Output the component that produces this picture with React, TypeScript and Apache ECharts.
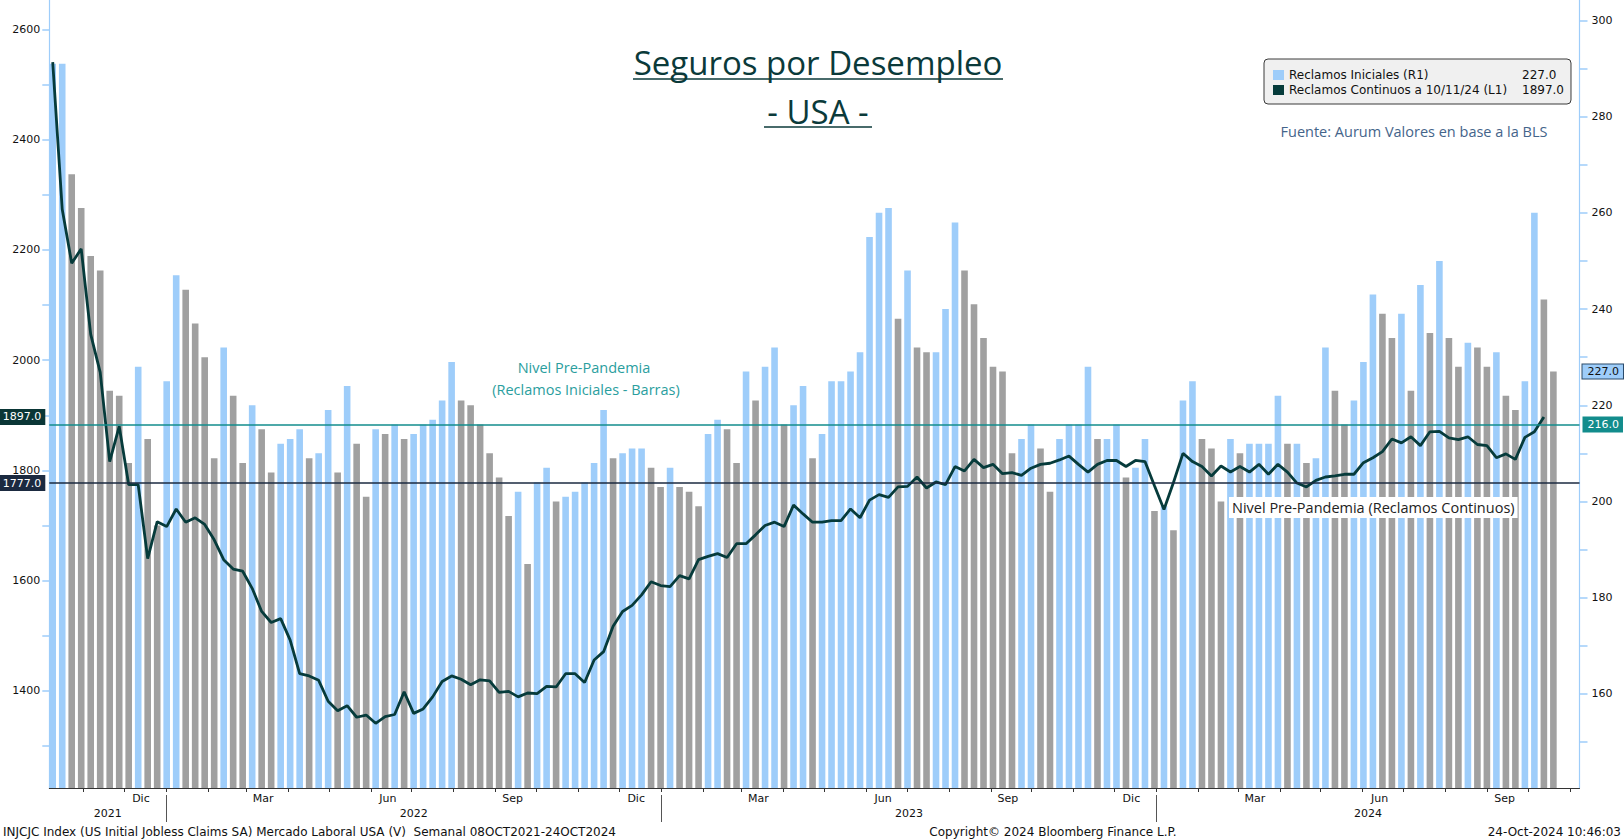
import React, { useEffect, useRef } from 'react';
import * as echarts from 'echarts';

// ---------- DATA ----------
const startDate = '2021-10-08'; // first weekly observation (Bloomberg Friday dating)

// Initial jobless claims, thousands (right axis, bars)
const initialClaims = [
  291, 291, 268, 261, 251, 248, 223, 222, 208, 228,
  213, 195, 225, 247, 244, 237, 230, 209, 232, 222,
  208, 220, 215, 206, 212, 213, 215, 209, 210, 219,
  206, 224, 212, 201, 215, 214, 216, 213, 214, 216,
  217, 221, 229, 221, 220, 216, 210, 205, 197, 202,
  187, 204, 207, 200, 201, 202, 204, 208, 219, 209,
  210, 211, 211, 207, 203, 207, 203, 202, 199, 214,
  217, 215, 208, 227, 221, 228, 232, 216, 220, 224,
  209, 214, 225, 225, 227, 231, 255, 260, 261, 238,
  248, 232, 231, 231, 240, 258, 248, 241, 234, 228,
  227, 210, 213, 216, 211, 202, 213, 216, 216, 228,
  213, 213, 216, 205, 207, 213, 198, 199, 194, 221,
  225, 213, 211, 200, 213, 210, 212, 212, 212, 222,
  212, 212, 208, 209, 232, 223, 216, 221, 229, 243,
  239, 234, 239, 223, 245, 235, 250, 234, 228, 233,
  232, 228, 231, 222, 219, 225, 260, 242, 227,
];

// Continuing claims, thousands (left axis, line)
const continuingClaims = [
  2541, 2274, 2176, 2202, 2047, 1978, 1816, 1880, 1774, 1774,
  1640, 1707, 1698, 1730, 1706, 1714, 1702, 1674, 1638, 1621,
  1617, 1586, 1544, 1524, 1531, 1492, 1431, 1427, 1419, 1381,
  1364, 1373, 1352, 1356, 1341, 1353, 1357, 1398, 1359, 1367,
  1389, 1417, 1427, 1421, 1411, 1420, 1418, 1397, 1399, 1389,
  1396, 1395, 1408, 1407, 1431, 1431, 1415, 1456, 1471, 1517,
  1544, 1555, 1574, 1598, 1591, 1589, 1609, 1603, 1638, 1644,
  1649, 1642, 1667, 1667, 1683, 1700, 1706, 1698, 1737, 1721,
  1706, 1706, 1709, 1709, 1730, 1714, 1746, 1756, 1751, 1770,
  1771, 1788, 1768, 1779, 1774, 1807, 1799, 1820, 1805, 1811,
  1794, 1796, 1791, 1804, 1811, 1813, 1819, 1826, 1811, 1797,
  1811, 1818, 1818, 1807, 1818, 1816, 1772, 1729, 1778, 1831,
  1816, 1807, 1790, 1808, 1797, 1807, 1797, 1811, 1793, 1811,
  1797, 1777, 1770, 1782, 1788, 1790, 1793, 1793, 1814, 1823,
  1834, 1857, 1850, 1861, 1845, 1870, 1871, 1859, 1856, 1861,
  1847, 1845, 1823, 1830, 1820, 1860, 1870, 1897,
];

const leftTickValues = [1300, 1400, 1500, 1600, 1700, 1800, 1900, 2000, 2100, 2200, 2300, 2400, 2500, 2600];
const leftLabelValues = [1400, 1600, 1800, 2000, 2200, 2400, 2600];
const rightTickValues = [150, 160, 170, 180, 190, 200, 210, 220, 230, 240, 250, 260, 270, 280, 290, 300];
const rightLabelValues = [160, 180, 200, 220, 240, 260, 280, 300];
const monthNames = ['Ene', 'Feb', 'Mar', 'Abr', 'May', 'Jun', 'Jul', 'Ago', 'Sep', 'Oct', 'Nov', 'Dic'];
const quarterMonths = [2, 5, 8, 11]; // Mar, Jun, Sep, Dic
const prePandemicInitial = 216;
const prePandemicContinuing = 1777;

const BAR_NAME = 'Reclamos Iniciales (R1)';
const BLUE = '#9ecdfa';
const GRAY = '#a0a0a0';
const LINE = '#063b3b';
const TEAL = '#128c8c';
const NAVY = '#1b2a40';

const DAY = 864e5;
const WEEK = 7 * DAY;
const TICK_SHIFT_DAYS = -1.5;   // Bloomberg draws month boundaries slightly before the 1st
const LABEL_SHIFT_DAYS = 11;    // month label anchor, days after the 1st

export default function App() {
  const ref = useRef<HTMLDivElement>(null);

  useEffect(() => {
    if (!ref.current) return;
    const chart = echarts.init(ref.current, null, { renderer: 'svg' });

    const t0 = Date.parse(startDate + 'T00:00:00Z');
    const dates = initialClaims.map((_, i) => t0 + i * WEEK);
    const xMin = t0 - 0.36 * WEEK;
    const xMax = t0 + 160.75 * WEEK;

    const monthStarts: number[] = [];
    const quarterLabels: number[] = [];
    const yearStarts: number[] = [];
    const yearMids: number[] = [];
    const d0 = new Date(xMin);
    let y = d0.getUTCFullYear();
    let m = d0.getUTCMonth();
    while (true) {
      const s = Date.UTC(y, m, 1);
      if (s > xMax) break;
      const tick = s + TICK_SHIFT_DAYS * DAY;
      if (tick >= xMin && tick <= xMax) monthStarts.push(tick);
      if (quarterMonths.includes(m)) {
        const lab = s + LABEL_SHIFT_DAYS * DAY;
        if (lab >= xMin && lab <= xMax) quarterLabels.push(lab);
      }
      m++;
      if (m > 11) { m = 0; y++; }
    }
    for (let yy = new Date(xMin).getUTCFullYear(); yy <= new Date(xMax).getUTCFullYear(); yy++) {
      const s = Date.UTC(yy, 0, 1) + TICK_SHIFT_DAYS * DAY;
      const e = Date.UTC(yy + 1, 0, 1) + TICK_SHIFT_DAYS * DAY;
      if (s > xMin && s < xMax) yearStarts.push(s);
      yearMids.push((Math.max(s, xMin) + Math.min(e, xMax)) / 2);
    }

    const lastLineIdx = continuingClaims.length - 1;
    const lastLineDate = new Date(dates[lastLineIdx]);
    const pad = (n: number) => String(n).padStart(2, '0');
    const lineName = `Reclamos Continuos a ${pad(lastLineDate.getUTCMonth() + 1)}/${pad(lastLineDate.getUTCDate())}/${String(lastLineDate.getUTCFullYear()).slice(2)} (L1)`;
    const lastBar = initialClaims[initialClaims.length - 1];
    const lastLine = continuingClaims[lastLineIdx];

    const barData = dates.map((t, i) => ({
      value: [t, initialClaims[i]],
      itemStyle: { color: i === 0 || initialClaims[i] >= initialClaims[i - 1] ? BLUE : GRAY },
    }));
    const lineData = continuingClaims.map((v, i) => [dates[i], v]);

    const axisFont = { fontFamily: 'DejaVu Sans', fontSize: 11, color: '#111' };
    const tagFont = { fontFamily: 'DejaVu Sans', fontSize: 11 };
    const plain = (v: number) => String(v);

    const option: any = {
      animation: false,
      backgroundColor: '#ffffff',
      grid: { left: 49.3, right: 44.5, top: 0, bottom: 52, containLabel: false },
      legend: {
        orient: 'vertical',
        left: 1264,
        top: 59,
        padding: [10, 7, 8, 9],
        backgroundColor: '#f0f0f0',
        borderColor: '#3a3a3a',
        borderWidth: 1,
        borderRadius: 4,
        itemWidth: 11,
        itemHeight: 10,
        itemGap: 3,
        icon: 'rect',
        selectedMode: false,
        data: [
          { name: BAR_NAME, itemStyle: { color: BLUE } },
          { name: lineName, itemStyle: { color: LINE } },
        ],
        formatter: (name: string) =>
          `{n|${name}}{v|${(name === BAR_NAME ? lastBar : lastLine).toFixed(1)}}`,
        textStyle: {
          rich: {
            n: { width: 233, fontFamily: 'DejaVu Sans', fontSize: 12, color: '#111', lineHeight: 13 },
            v: { fontFamily: 'DejaVu Sans', fontSize: 12, color: '#111', lineHeight: 13 },
          },
        },
      },
      xAxis: [
        {
          type: 'value',
          min: xMin,
          max: xMax,
          position: 'bottom',
          axisLine: { show: true, lineStyle: { color: '#333', width: 1 } },
          axisTick: { show: true, customValues: monthStarts, length: 4, lineStyle: { color: '#333' } },
          axisLabel: {
            customValues: quarterLabels,
            formatter: (v: number) => monthNames[new Date(v).getUTCMonth()],
            ...axisFont,
            margin: 5,
          },
          splitLine: { show: false },
        },
        {
          type: 'value',
          min: xMin,
          max: xMax,
          position: 'bottom',
          offset: 7,
          axisLine: { show: false },
          axisTick: { show: true, customValues: yearStarts, length: 27, lineStyle: { color: '#555' } },
          axisLabel: {
            customValues: yearMids,
            formatter: (v: number) => String(new Date(v).getUTCFullYear()),
            ...axisFont,
            margin: 13,
          },
          splitLine: { show: false },
        },
      ],
      yAxis: [
        {
          type: 'value',
          position: 'left',
          min: 1223.6,
          max: 2653.7,
          axisLine: { show: true, lineStyle: { color: BLUE, width: 1.2 } },
          axisTick: { show: true, customValues: leftTickValues, length: 7, lineStyle: { color: BLUE, width: 1.5 } },
          axisLabel: { customValues: leftLabelValues, formatter: plain, ...axisFont, margin: 9 },
          splitLine: { show: false },
        },
        {
          type: 'value',
          position: 'right',
          min: 140.44,
          max: 304.24,
          axisLine: { show: true, lineStyle: { color: BLUE, width: 1.2 } },
          axisTick: { show: true, customValues: rightTickValues, length: 8, lineStyle: { color: BLUE, width: 1.5 } },
          axisLabel: { customValues: rightLabelValues, formatter: plain, ...axisFont, margin: 12 },
          splitLine: { show: false },
        },
      ],
      series: [
        {
          name: BAR_NAME,
          type: 'bar',
          xAxisIndex: 0,
          yAxisIndex: 1,
          barWidth: 6.6,
          clip: true,
          z: 2,
          data: barData,
          markLine: {
            silent: true,
            symbol: ['none', 'none'],
            data: [
              {
                yAxis: prePandemicInitial,
                lineStyle: { color: TEAL, width: 1.6, type: 'solid' },
                label: {
                  show: true, position: 'end', distance: 3,
                  formatter: prePandemicInitial.toFixed(1),
                  backgroundColor: TEAL, color: '#fff', padding: [3, 4, 2, 5], ...tagFont,
                },
              },
              {
                yAxis: lastBar,
                lineStyle: { color: 'rgba(0,0,0,0)', width: 0 },
                label: {
                  show: true, position: 'end', distance: 3,
                  formatter: lastBar.toFixed(1),
                  backgroundColor: BLUE, color: '#111', borderColor: '#2b4a6a', borderWidth: 1,
                  padding: [2, 4, 1, 5], ...tagFont,
                },
              },
            ],
          },
        },
        {
          name: lineName,
          type: 'line',
          xAxisIndex: 0,
          yAxisIndex: 0,
          showSymbol: false,
          symbol: 'none',
          z: 3,
          lineStyle: { color: LINE, width: 2.8 },
          itemStyle: { color: LINE },
          data: lineData,
          markLine: {
            silent: true,
            symbol: ['none', 'none'],
            data: [
              {
                yAxis: prePandemicContinuing,
                lineStyle: { color: NAVY, width: 1.6, type: 'solid' },
                label: {
                  show: true, position: 'start', distance: 4,
                  formatter: prePandemicContinuing.toFixed(1),
                  backgroundColor: NAVY, color: '#fff', padding: [3, 4, 2, 3], ...tagFont,
                },
              },
              {
                yAxis: lastLine,
                lineStyle: { color: 'rgba(0,0,0,0)', width: 0 },
                label: {
                  show: true, position: 'start', distance: 4,
                  formatter: lastLine.toFixed(1),
                  backgroundColor: '#0a3636', color: '#fff', padding: [3, 4, 2, 3], ...tagFont,
                },
              },
            ],
          },
        },
      ],
      graphic: [
        {
          type: 'text', x: 818, y: 62, z: 10,
          style: { text: 'Seguros por Desempleo', font: '33px "Open Sans"', fill: '#0b3a3a', textAlign: 'center', textVerticalAlign: 'middle' },
        },
        { type: 'line', z: 10, shape: { x1: 633, y1: 79, x2: 1003, y2: 79 }, style: { stroke: '#0b3a3a', lineWidth: 1.5 } },
        {
          type: 'text', x: 818, y: 111, z: 10,
          style: { text: '- USA -', font: '33px "Open Sans"', fill: '#0b3a3a', textAlign: 'center', textVerticalAlign: 'middle' },
        },
        { type: 'line', z: 10, shape: { x1: 764, y1: 127, x2: 872, y2: 127 }, style: { stroke: '#0b3a3a', lineWidth: 1.5 } },
        {
          type: 'text', x: 1414, y: 131, z: 10,
          style: { text: 'Fuente: Aurum Valores en base a la BLS', font: '14.5px "Open Sans"', fill: '#44648a', textAlign: 'center', textVerticalAlign: 'middle' },
        },
        {
          type: 'text', x: 584, y: 367, z: 10,
          style: { text: 'Nivel Pre-Pandemia', font: '14.5px "Open Sans"', fill: '#2a9e9e', textAlign: 'center', textVerticalAlign: 'middle' },
        },
        {
          type: 'text', x: 586, y: 389, z: 10,
          style: { text: '(Reclamos Iniciales - Barras)', font: '14.5px "Open Sans"', fill: '#2a9e9e', textAlign: 'center', textVerticalAlign: 'middle' },
        },
        {
          type: 'text', x: 1229, y: 507.5, z: 10,
          style: {
            text: 'Nivel Pre-Pandemia (Reclamos Continuos)', font: '14.5px "Open Sans"', fill: '#222',
            textAlign: 'left', textVerticalAlign: 'middle', backgroundColor: '#ffffff', padding: [3, 3, 3, 3],
          },
        },
        {
          type: 'text', x: 3, y: 832, z: 10,
          style: { text: 'INJCJC Index (US Initial Jobless Claims SA) Mercado Laboral USA (V)  Semanal 08OCT2021-24OCT2024', font: '12px "DejaVu Sans"', fill: '#111', textAlign: 'left', textVerticalAlign: 'middle' },
        },
        {
          type: 'text', x: 1053, y: 832, z: 10,
          style: { text: 'Copyright© 2024 Bloomberg Finance L.P.', font: '12px "DejaVu Sans"', fill: '#111', textAlign: 'center', textVerticalAlign: 'middle' },
        },
        {
          type: 'text', x: 1621, y: 832, z: 10,
          style: { text: '24-Oct-2024 10:46:03', font: '12px "DejaVu Sans"', fill: '#111', textAlign: 'right', textVerticalAlign: 'middle' },
        },
      ],
    };

    chart.setOption(option);
    return () => chart.dispose();
  }, []);

  return (
    <div
      ref={ref}
      style={{ position: 'fixed', left: 0, top: 0, width: 1624, height: 840, background: '#fff' }}
    />
  );
}
